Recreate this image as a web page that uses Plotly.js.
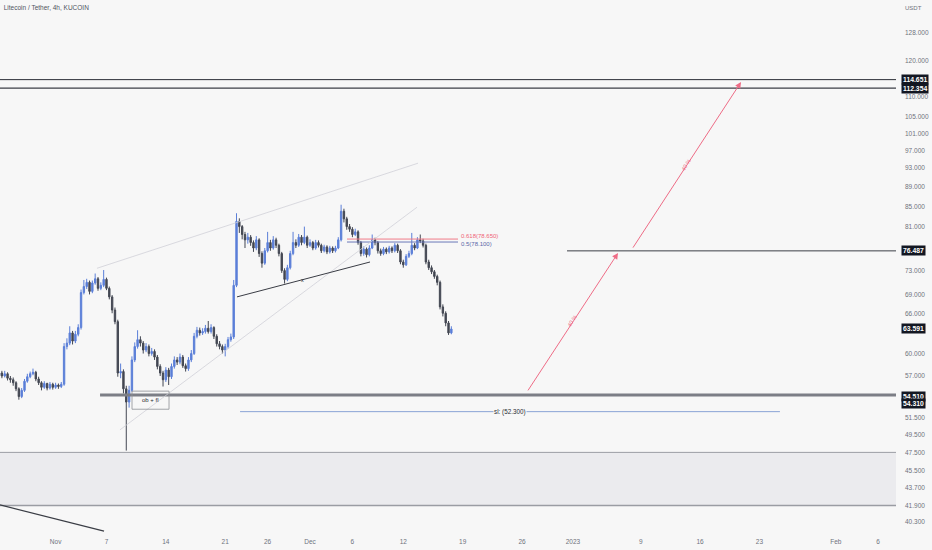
<!DOCTYPE html>
<html>
<head>
<meta charset="utf-8">
<script src="https://cdn.plot.ly/plotly-3.0.1.min.js"></script>
<style>html,body{margin:0;padding:0;background:#f7f7f7;}#chart{width:932px;height:550px;}</style>
</head>
<body>
<div id="chart"></div>
<script>
// ---- Data (8h candles, LTC/USDT) ----
const startTime = Date.UTC(2022, 9, 25, 0, 0);   // first candle
const candleHours = 8;
const firstOpen = 56.8;
const closes = [
 57.0,57.3,56.9,57.2,56.6,56.4,56.0,55.2,54.2,55.0,56.2,56.8,57.2,57.4,56.5,56.0,55.4,55.9,55.3,55.8,55.4,55.7,55.5,55.8,
 61.0,61.5,63.0,61.8,62.8,63.8,69.3,70.3,71.0,69.5,70.9,71.6,70.0,70.5,71.5,70.0,68.6,66.5,64.7,57.3,
 57.5,55.2,53.5,55.0,59.1,61.0,62.0,61.5,60.5,61.0,60.0,60.3,59.5,58.2,57.3,56.4,
 57.7,56.8,58.2,59.1,58.8,59.5,58.3,57.9,59.1,60.0,62.5,63.4,63.0,63.2,63.7,63.2,63.8,62.5,61.4,61.0,60.5,61.0,62.0,62.4,
 70.5,82.0,81.0,79.5,78.5,79.0,78.0,77.0,78.5,76.0,74.3,76.5,78.0,77.0,78.5,77.5,76.0,73.0,71.5,73.5,76.0,78.0,77.5,79.0,78.0,79.0,77.5,78.0,77.0,78.0,77.5,76.5,77.2,76.3,77.0,76.5,77.0,78.5,
 84.0,82.5,81.0,80.5,79.5,80.0,78.0,76.0,76.8,75.8,77.0,78.5,78.0,76.5,76.0,76.8,76.3,77.0,76.5,77.5,76.5,74.5,74.0,75.5,76.0,77.5,77.0,78.5,78.3,77.5,74.5,73.5,72.8,72.0,71.0,67.0,66.0,64.5,63.0,63.591
];
const highs = [
 57.5,57.7,57.6,57.6,57.4,56.9,56.7,56.2,55.4,55.3,56.5,57.2,57.5,57.9,57.6,56.8,56.2,56.2,56.0,56.1,56.0,56.0,55.9,56.1,
 61.5,62.2,64.0,63.3,63.3,64.3,69.8,71.4,71.6,71.3,71.3,72.5,71.9,71.0,73.1,71.8,70.3,68.9,66.9,65.0,
 58.6,57.8,55.6,55.6,59.6,61.6,63.4,62.5,61.8,61.5,61.3,60.8,60.6,59.8,58.5,57.6,
 58.1,58.0,58.6,59.6,59.5,60.0,59.8,58.6,59.5,60.5,63.0,63.9,63.8,63.7,64.2,64.8,64.3,64.0,62.8,61.8,61.3,61.4,62.4,62.9,
 71.4,83.6,82.6,81.3,80.0,79.8,79.4,78.4,79.2,78.8,76.4,77.0,80.0,78.5,79.2,78.9,77.8,76.3,73.4,74.0,76.5,80.0,78.6,79.6,79.4,81.0,79.3,78.6,78.3,78.5,78.4,77.8,77.6,77.5,77.4,77.3,77.4,79.0,
 85.3,84.5,82.9,81.5,80.9,80.6,80.3,78.3,77.3,77.1,77.5,79.5,78.9,78.3,76.9,77.2,77.1,77.4,77.3,77.9,77.8,76.8,74.9,75.9,76.5,79.8,77.9,79.0,79.5,78.7,77.8,74.9,73.9,73.1,72.3,71.3,67.4,66.3,64.8,64.0
];
const lows = [
 56.5,56.8,56.6,56.7,56.3,56.0,55.6,54.9,53.8,54.0,54.8,56.0,56.6,57.0,56.2,55.7,55.0,55.2,55.0,55.1,55.1,55.2,55.2,55.3,
 55.6,60.6,61.2,61.3,61.5,62.5,63.5,69.0,69.9,69.0,69.2,70.6,69.6,69.7,70.2,69.7,68.2,66.0,64.3,56.8,
 56.6,54.6,47.7,52.8,54.8,58.8,60.7,61.0,60.0,60.2,59.6,59.7,59.1,57.8,56.9,55.5,
 56.1,55.7,56.5,57.9,58.4,58.5,58.0,57.5,57.6,58.8,59.8,62.2,62.6,62.7,62.9,62.9,62.9,62.1,61.0,60.6,60.0,59.6,60.7,61.7,
 62.1,70.2,79.8,78.6,77.0,77.8,77.4,76.3,76.6,75.4,73.5,74.0,76.2,76.5,76.7,77.0,75.5,72.6,70.8,71.2,73.2,75.7,77.0,77.2,77.5,77.7,77.0,77.2,76.6,76.7,77.1,76.1,76.2,75.9,76.0,76.1,76.2,76.8,
 78.2,81.8,80.4,80.0,79.0,79.2,77.6,75.5,75.6,75.3,75.5,76.8,77.5,76.0,75.6,75.7,75.9,76.0,76.1,76.2,76.1,74.1,73.5,73.8,75.2,75.7,76.6,76.8,77.9,77.1,74.1,73.1,72.4,71.6,70.5,66.6,65.5,64.0,62.7,62.8
];

// Levels and drawings (prices)
const resistance1 = 114.651, resistance2 = 112.354, midLevel = 76.487;
const support1 = 54.510, support2 = 54.310, lastPrice = 63.591;
const stopLoss = 52.300, fib618 = 78.650, fib50 = 78.100;
const zoneTop = 47.5, zoneBottom = 41.9;

const yTickVals = [40.3,41.9,43.7,45.5,47.5,49.5,51.5,57,60,66,69,73,81,85,89,93,97,101,105,110,120,128];
const xTickVals = ['2022-11-01','2022-11-07','2022-11-14','2022-11-21','2022-11-26','2022-12-01','2022-12-06','2022-12-12','2022-12-19','2022-12-26','2023-01-01','2023-01-09','2023-01-16','2023-01-23','2023-02-01','2023-02-06'];
const xTickText = ['Nov','7','14','21','26','Dec','6','12','19','26','2023','9','16','23','Feb','6'];

// ---- Build ----
function fmt(ms){
  const d = new Date(ms);
  const p = n => String(n).padStart(2,'0');
  return d.getUTCFullYear()+'-'+p(d.getUTCMonth()+1)+'-'+p(d.getUTCDate())+' '+p(d.getUTCHours())+':'+p(d.getUTCMinutes());
}
const times = closes.map((_, i) => fmt(startTime + i*candleHours*3600*1000));
const opens = closes.map((c, i) => i === 0 ? firstOpen : closes[i-1]);

const UP = '#5b7fd8', DOWN = '#434752';
const trace = {
  type: 'candlestick', x: times, open: opens, high: highs, low: lows, close: closes,
  increasing: {line: {color: UP, width: 1}, fillcolor: UP},
  decreasing: {line: {color: DOWN, width: 1}, fillcolor: DOWN},
  whiskerwidth: 0, hoverinfo: 'skip'
};

const L = Math.log10;
const xStart = '2022-10-25 10:38', xEnd = '2023-02-08 02:26';
const gray = '#6f727d';
const FONT = 'Liberation Sans, Arial, sans-serif';

const shapes = [
  // demand zone
  {type:'rect', xref:'paper', x0:0, x1:1, yref:'y', y0:zoneBottom, y1:zoneTop, fillcolor:'#ebebee', line:{width:0}, layer:'below'},
  {type:'line', xref:'paper', x0:0, x1:1, yref:'y', y0:zoneTop, y1:zoneTop, line:{color:'#9a9ca3', width:1}},
  {type:'line', xref:'paper', x0:0, x1:1, yref:'y', y0:zoneBottom, y1:zoneBottom, line:{color:'#9a9ca3', width:1.5}},
  // resistance lines
  {type:'line', xref:'paper', x0:0, x1:1, yref:'y', y0:resistance1, y1:resistance1, line:{color:'#2a2d35', width:1}},
  {type:'line', xref:'paper', x0:0, x1:1, yref:'y', y0:resistance2, y1:resistance2, line:{color:'#3c3f47', width:1.3}},
  {type:'line', xref:'x', x0:'2022-12-31 07:25', x1:'2023-02-12', yref:'y', y0:midLevel, y1:midLevel, line:{color:'#3c3f47', width:1}},
  // support lines
  {type:'line', xref:'x', x0:'2022-11-06 05:45', x1:'2023-02-12', yref:'y', y0:support1, y1:support1, line:{color:'#7c7e86', width:1.5}},
  {type:'line', xref:'x', x0:'2022-11-06 05:45', x1:'2023-02-12', yref:'y', y0:support2, y1:support2, line:{color:'#7c7e86', width:1.5}},
  // stop loss
  {type:'line', xref:'x', x0:'2022-11-22 18:00', x1:'2023-01-25 10:00', yref:'y', y0:stopLoss, y1:stopLoss, line:{color:'#8aa4d6', width:1}},
  // fib lines
  {type:'line', xref:'x', x0:'2022-12-05 08:40', x1:'2022-12-18 10:50', yref:'y', y0:fib618, y1:fib618, line:{color:'#f07a88', width:1}},
  {type:'line', xref:'x', x0:'2022-12-05 08:40', x1:'2022-12-18 10:50', yref:'y', y0:fib50, y1:fib50, line:{color:'#6a78b8', width:1}},
  // channel lines
  {type:'line', xref:'x', yref:'y', x0:'2022-11-05 21:07', y0:73.4, x1:'2022-12-13 17:45', y1:94.1, line:{color:'#d0d1d8', width:0.8}},
  {type:'line', xref:'x', yref:'y', x0:'2022-11-08 14:12', y0:50.1, x1:'2022-12-13 14:50', y1:84.8, line:{color:'#d0d1d8', width:0.8}},
  // trendline x
  {type:'line', xref:'x', yref:'y', x0:'2022-11-22 09:20', y0:68.6, x1:'2022-12-08 01:50', y1:74.5, line:{color:'#3a3d45', width:1}},
  // bottom-left line
  {type:'line', xref:'x', yref:'y', x0:xStart, y0:41.95, x1:'2022-11-06 17:00', y1:39.43, line:{color:'#3a3d45', width:1.2}},
  // ob + fl box
  {type:'rect', xref:'x', yref:'y', x0:'2022-11-10 00:14', x1:'2022-11-14 09:00', y0:52.6, y1:54.9, line:{color:'#8d8f96', width:0.8}, fillcolor:'rgba(0,0,0,0)'}
];

function tag(price, shift){
  return {xref:'paper', x:1, xanchor:'left', xshift:5, yref:'y', y:L(price), yshift:shift||0,
    text:'<b>'+price.toFixed(3)+'</b>', showarrow:false, bgcolor:'#131722', borderpad:1,
    font:{family:FONT, size:6.8, color:'#ffffff'}};
}
const pink = '#ee6c86';
const annotations = [
  tag(resistance1, 0), tag(resistance2, 0), tag(midLevel, 0), tag(lastPrice, 0),
  tag(support1, -2), tag(support2, -8),
  {xref:'paper', x:1, xanchor:'left', xshift:7, yref:'paper', y:1, yanchor:'top', yshift:-3,
   text:'USDT', showarrow:false, font:{family:FONT, size:6, color:gray}},
  {xref:'x', x:'2022-11-12 03:10', yref:'y', y:L(53.8), text:'ob + fl', showarrow:false,
   font:{family:FONT, size:6, color:'#2a2d35'}},
  {xref:'x', x:'2022-12-24 14:00', yref:'y', y:L(stopLoss), text:'sl: (52.300)', showarrow:false,
   bgcolor:'#f7f7f7', borderpad:0, font:{family:FONT, size:6.3, color:'#2a2d35'}},
  {xref:'x', x:'2022-12-18 14:00', xanchor:'left', yref:'y', y:L(fib618), yshift:3, text:'0.618(78.650)', showarrow:false,
   font:{family:FONT, size:6, color:'#f06478'}},
  {xref:'x', x:'2022-12-18 14:00', xanchor:'left', yref:'y', y:L(fib50), yshift:-2, text:'0.5(78.100)', showarrow:false,
   font:{family:FONT, size:6, color:'#5a67a8'}},
  {xref:'x', x:'2022-11-30 01:30', yref:'y', y:L(71.4), text:'x', showarrow:false,
   font:{family:FONT, size:5.5, color:'#2a2d35'}},
  // arrows
  {xref:'x', yref:'y', axref:'x', ayref:'y', x:'2023-01-06 07:40', y:L(76.1), ax:'2022-12-26 14:10', ay:L(54.8),
   text:'', showarrow:true, arrowhead:2, arrowsize:1.2, arrowwidth:1, arrowcolor:pink},
  {xref:'x', yref:'y', axref:'x', ayref:'y', x:'2023-01-20 19:55', y:L(114.0), ax:'2023-01-07 23:20', ay:L(76.8),
   text:'', showarrow:true, arrowhead:2, arrowsize:1.2, arrowwidth:1, arrowcolor:pink},
  {xref:'x', yref:'y', x:'2022-12-31 21:30', y:L(64.8), text:'40 %', textangle:-57, showarrow:false,
   font:{family:FONT, size:5.5, color:pink}},
  {xref:'x', yref:'y', x:'2023-01-14 08:10', y:L(93.7), text:'40 %', textangle:-57, showarrow:false,
   font:{family:FONT, size:5.5, color:pink}}
];

const layout = {
  width: 932, height: 550,
  margin: {l:0, r:36, t:0, b:18, pad:0},
  paper_bgcolor: '#f7f7f7', plot_bgcolor: '#f7f7f7',
  showlegend: false, dragmode: false,
  title: {text:'Litecoin / Tether, 4h, KUCOIN', x:0.004, xanchor:'left', y:0.99, yanchor:'top',
          font:{family:FONT, size:6.5, color:'#50535e'}},
  xaxis: {type:'date', range:[xStart, xEnd], showgrid:false, zeroline:false, showline:false,
          tickvals:xTickVals, ticktext:xTickText, ticks:'', ticklabelstandoff:4,
          tickfont:{family:FONT, size:6.5, color:gray},
          rangeslider:{visible:false}, fixedrange:true},
  yaxis: {type:'log', side:'right', range:[L(39.35), L(138.4)], showgrid:false, zeroline:false, showline:false,
          tickvals:yTickVals, ticktext:yTickVals.map(v => v.toFixed(3)), ticks:'', ticklabelstandoff:8,
          tickfont:{family:FONT, size:6.5, color:gray}, fixedrange:true},
  shapes: shapes,
  annotations: annotations
};

Plotly.newPlot('chart', [trace], layout, {displayModeBar:false, staticPlot:true});
</script>
</body>
</html>
